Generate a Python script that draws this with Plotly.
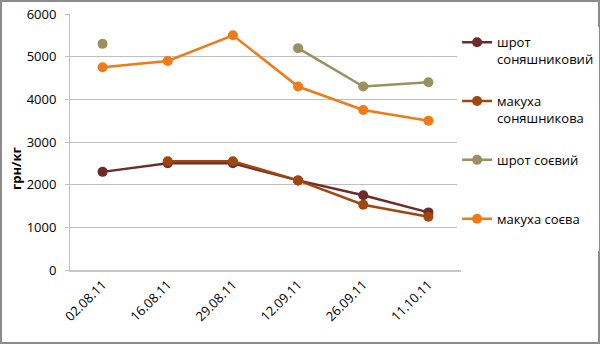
import plotly.graph_objects as go

dates = ["02.08.11", "16.08.11", "29.08.11", "12.09.11", "26.09.11", "11.10.11"]
shrot_sonyash = [2300, 2500, 2500, 2100, 1750, 1350]
makukha_sonyash = [None, 2550, 2550, 2100, 1530, 1250]
shrot_soy = [5300, None, None, 5200, 4300, 4400]
makukha_soy = [4750, 4900, 5500, 4300, 3750, 3500]

names = ["шрот<br>соняшниковий", "макуха<br>соняшникова", "шрот соєвий<br> ", "макуха соєва<br> "]
colors = ["#6E2B2B", "#A0460E", "#9B9060", "#F07A17"]
series = [shrot_sonyash, makukha_sonyash, shrot_soy, makukha_soy]

W, H = 600, 344
L, R, T, B = 70, 139, 14, 74
pw = W - L - R
ph = H - T - B

fig = go.Figure()
for i, (nm, col, vals) in enumerate(zip(names, colors, series)):
    fig.add_trace(go.Scatter(
        x=dates, y=vals, name=nm, mode="lines+markers",
        line=dict(color=col, width=2.5),
        marker=dict(color=col, size=10),
        connectgaps=False, legendgroup=str(i),
    ))

# outer frame of the chart
fig.add_shape(type="rect", xref="paper", yref="paper",
              x0=-(L - 1) / pw, x1=1 + (R - 1) / pw,
              y0=-(B - 1) / ph, y1=1 + (T - 1) / ph,
              line=dict(color="#8C8C8C", width=2), layer="above")

# rotated axis title
fig.add_annotation(text="<b>грн/кг</b>", xref="paper", yref="paper",
                   x=-(L - 16) / pw, y=1 - (169 - T) / ph,
                   xanchor="center", yanchor="middle",
                   textangle=-90, showarrow=False,
                   font=dict(size=13, color="#000000"))

fig.update_layout(
    width=W, height=H,
    margin=dict(l=L, r=R, t=T, b=B, autoexpand=False),
    paper_bgcolor="white", plot_bgcolor="white",
    font=dict(family="Open Sans", size=13, color="#000000"),
    showlegend=True,
    legend=dict(x=0.99, y=0.948, xanchor="left", yanchor="top",
                valign="top", tracegroupgap=22,
                font=dict(size=13), itemwidth=30),
    xaxis=dict(type="category", range=[-0.5, 5.5], tickangle=-45,
               showgrid=False, showline=True, linecolor="#C8C8C8", linewidth=2,
               ticks="", tickfont=dict(size=13), automargin=False),
    yaxis=dict(range=[0, 6000], dtick=1000, showgrid=True, gridcolor="#C0C0C0",
               gridwidth=1, showline=True, linecolor="#C0C0C0", linewidth=1,
               ticks="outside", ticklen=4, tickcolor="#C0C0C0", zeroline=False,
               ticklabelstandoff=6, tickfont=dict(size=13), automargin=False),
)

fig.write_html("out.html")
